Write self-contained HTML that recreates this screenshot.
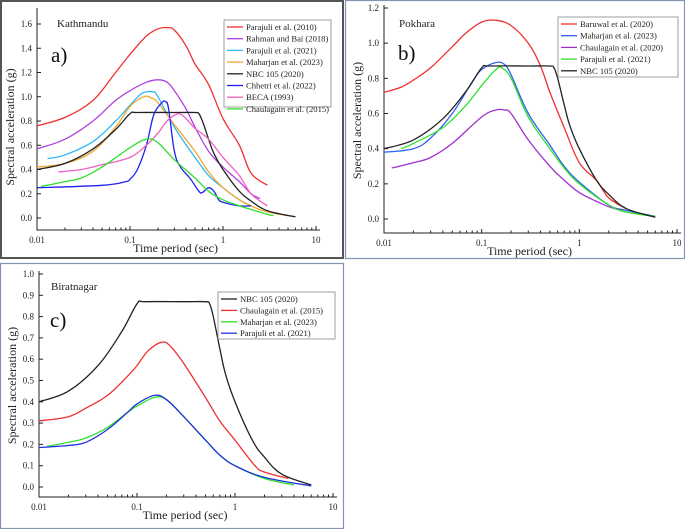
<!DOCTYPE html>
<html><head><meta charset="utf-8"><style>
body{margin:0;background:#fff;width:685px;height:529px;overflow:hidden}
svg{display:block;font-family:"Liberation Serif",serif}
</style></head><body>
<svg id="fig" width="685" height="529"></svg>
<script>
// ---- data ----
const nbc=[[0.01,0.4],[0.02,0.45],[0.04,0.57],[0.07,0.73],[0.1,0.86],[0.12,0.87],[0.3,0.87],[0.5,0.87],[0.55,0.86],[0.6,0.8],[0.7,0.65],[0.8,0.53],[1,0.4],[1.5,0.22],[2,0.14],[3,0.06],[6,0.01]];
const aParajuli2010=[[0.01,0.76],[0.02,0.83],[0.04,0.97],[0.07,1.2],[0.1,1.35],[0.15,1.5],[0.2,1.56],[0.25,1.57],[0.3,1.55],[0.4,1.42],[0.5,1.27],[0.7,1.1],[1,0.82],[1.5,0.6],[2,0.37],[3,0.27]];
const aRahman=[[0.01,0.57],[0.02,0.65],[0.04,0.8],[0.07,0.97],[0.1,1.05],[0.15,1.12],[0.2,1.14],[0.25,1.12],[0.3,1.05],[0.4,0.9],[0.5,0.75],[0.7,0.55],[1,0.42],[1.5,0.3],[2,0.2],[2.5,0.16]];
const aParajuli2021=[[0.013,0.49],[0.02,0.52],[0.04,0.63],[0.07,0.8],[0.1,0.93],[0.13,1.02],[0.15,1.04],[0.18,1.04],[0.2,1.0],[0.3,0.75],[0.5,0.5],[0.7,0.35],[1,0.25],[1.5,0.15],[2,0.1]];
const aMaharjan=[[0.01,0.42],[0.02,0.45],[0.04,0.55],[0.07,0.75],[0.1,0.92],[0.14,1.0],[0.17,0.99],[0.2,0.95],[0.3,0.77],[0.5,0.55],[0.7,0.38],[1,0.25],[1.5,0.15],[2,0.1],[3,0.05],[6,0.01]];
const aChhetri=[[0.01,0.25],[0.05,0.27],[0.09,0.3],[0.1,0.32],[0.12,0.4],[0.15,0.6],[0.18,0.85],[0.22,0.95],[0.24,0.96],[0.26,0.9],[0.3,0.55],[0.35,0.42],[0.45,0.32],[0.55,0.22],[0.6,0.21],[0.7,0.25],[0.8,0.22],[0.9,0.15],[1,0.13],[1.5,0.1],[2,0.1]];
const aBeca=[[0.017,0.38],[0.03,0.4],[0.05,0.44],[0.1,0.5],[0.15,0.6],[0.2,0.7],[0.25,0.8],[0.33,0.86],[0.4,0.82],[0.5,0.74],[0.7,0.65],[1,0.5],[1.5,0.35],[2,0.2],[3,0.1]];
const aChaulagain=[[0.011,0.26],[0.02,0.3],[0.03,0.33],[0.05,0.42],[0.1,0.58],[0.15,0.65],[0.2,0.62],[0.3,0.48],[0.5,0.33],[0.7,0.22],[1,0.15],[1.5,0.1],[2,0.07],[3,0.03],[3.5,0.02]];
const bBaruwal=[[0.01,0.72],[0.015,0.75],[0.02,0.79],[0.03,0.86],[0.05,0.98],[0.07,1.06],[0.1,1.12],[0.14,1.13],[0.2,1.1],[0.3,1.0],[0.4,0.87],[0.5,0.72],[0.7,0.52],[1,0.32],[1.5,0.22],[2,0.12],[3,0.06]];
const bMaharjan=[[0.01,0.38],[0.02,0.4],[0.03,0.46],[0.05,0.6],[0.08,0.78],[0.1,0.85],[0.14,0.89],[0.17,0.88],[0.2,0.82],[0.3,0.6],[0.5,0.42],[0.7,0.3],[1,0.21],[2,0.08],[3,0.05],[6,0.015]];
const bChaulagain=[[0.012,0.29],[0.02,0.32],[0.03,0.35],[0.05,0.43],[0.1,0.58],[0.14,0.62],[0.17,0.62],[0.2,0.6],[0.3,0.45],[0.5,0.3],[0.7,0.22],[1,0.15],[1.5,0.1],[2,0.07],[3,0.04]];
const bParajuli=[[0.015,0.4],[0.02,0.43],[0.04,0.52],[0.07,0.65],[0.1,0.76],[0.14,0.85],[0.16,0.86],[0.2,0.8],[0.3,0.58],[0.5,0.4],[0.7,0.29],[1,0.2],[2,0.08],[3,0.04],[6,0.015]];
const cChaulagain=[[0.01,0.31],[0.02,0.33],[0.03,0.37],[0.05,0.43],[0.08,0.52],[0.1,0.57],[0.13,0.64],[0.18,0.68],[0.22,0.66],[0.3,0.58],[0.5,0.42],[0.7,0.31],[1,0.22],[1.6,0.1],[2,0.07],[3.5,0.04]];
const cMaharjan=[[0.012,0.19],[0.02,0.21],[0.03,0.23],[0.05,0.28],[0.08,0.35],[0.1,0.38],[0.15,0.42],[0.2,0.41],[0.3,0.33],[0.5,0.22],[0.7,0.15],[1,0.1],[2,0.04],[4,0.01]];
const cParajuli=[[0.01,0.185],[0.02,0.195],[0.03,0.21],[0.05,0.27],[0.08,0.35],[0.1,0.39],[0.15,0.43],[0.2,0.41],[0.3,0.33],[0.5,0.22],[0.7,0.15],[1,0.1],[2,0.045],[6,0.005]];
const xTickLabels=["0.01","0.1","1","10"];
const aYTicks=[0,0.2,0.4,0.6,0.8,1.0,1.2,1.4,1.6];
const bYTicks=[0,0.2,0.4,0.6,0.8,1.0,1.2];
const cYTicks=[0,0.1,0.2,0.3,0.4,0.5,0.6,0.7,0.8,0.9,1.0];

const svg=document.getElementById('fig');const NS='http://www.w3.org/2000/svg';
function mk(tag,at,parent,txt){const e=document.createElementNS(NS,tag);for(const k in at)e.setAttribute(k,at[k]);if(txt!==undefined)e.textContent=txt;(parent||svg).appendChild(e);return e;}
function smooth(P){let d=`M${P[0][0].toFixed(1)},${P[0][1].toFixed(1)}`;const t=0.18;
 for(let i=0;i<P.length-1;i++){const p0=P[Math.max(0,i-1)],p1=P[i],p2=P[i+1],p3=P[Math.min(P.length-1,i+2)];
  const c1=[p1[0]+(p2[0]-p0[0])*t,p1[1]+(p2[1]-p0[1])*t],c2=[p2[0]-(p3[0]-p1[0])*t,p2[1]-(p3[1]-p1[1])*t];
  d+=`C${c1[0].toFixed(1)},${c1[1].toFixed(1)} ${c2[0].toFixed(1)},${c2[1].toFixed(1)} ${p2[0].toFixed(1)},${p2[1].toFixed(1)}`;}
 return d;}

const panels=[
 {id:'kathmandu',bx:1,by:1,bw:342,bh:257,bc:'#555',x0:37,x1:316,yz:218,ytop:24,ymaxv:1.6,ax:230,aTop:8,yt:aYTicks,dec:1,
  title:'Kathmandu',tx:57,ty:27,lab:'a)',lx:51,ly:62,legX:224,legY:20,legW:107,legH:87,legStep:11.7,
  series:[['Parajuli et al. (2010)','#f03030',aParajuli2010],['Rahman and Bai (2018)','#b040e0',aRahman],['Parajuli et al. (2021)','#30b8f8',aParajuli2021],['Maharjan et al. (2023)','#f0a830',aMaharjan],['NBC 105 (2020)','#222',nbc],['Chhetri et al. (2022)','#2020f0',aChhetri],['BECA (1993)','#f060c0',aBeca],['Chaulagain et al. (2015)','#30e030',aChaulagain]]},
 {id:'pokhara',bx:345.5,by:0.5,bw:339,bh:258,bc:'#8494b4',x0:384,x1:677,yz:219,ytop:8,ymaxv:1.2,ax:233,aTop:5,yt:bYTicks,dec:1,
  title:'Pokhara',tx:399,ty:27,lab:'b)',lx:398,ly:60,legX:558,legY:17,legW:120,legH:60,legStep:11.7,
  series:[['Baruwal et al. (2020)','#f03030',bBaruwal],['Maharjan et al. (2023)','#3060f0',bMaharjan],['Chaulagain et al. (2020)','#a030d0',bChaulagain],['Parajuli et al. (2021)','#30e030',bParajuli],['NBC 105 (2020)','#222',nbc]]},
 {id:'biratnagar',bx:0.5,by:263.5,bw:343,bh:265,bc:'#8494b4',x0:39,x1:333,yz:487,ytop:274,ymaxv:1.0,ax:497,aTop:271,yt:cYTicks,dec:1,
  title:'Biratnagar',tx:51,ty:290,lab:'c)',lx:50,ly:327,legX:218,legY:292,legW:117,legH:47,legStep:11.4,
  series:[['NBC 105 (2020)','#222',nbc],['Chaulagain et al. (2015)','#f03030',cChaulagain],['Maharjan et al. (2023)','#30e030',cMaharjan],['Parajuli et al. (2021)','#2030e0',cParajuli]]}
];

panels.forEach(p=>{
 const g=mk('g',{},svg);
 const b=mk('rect',{x:p.bx,y:p.by,width:p.bw,height:p.bh,fill:'none',stroke:p.bc,'stroke-width':p.bc==='#555'?2:1.2},g);
 
 const X=v=>p.x0+(Math.log10(v)+2)/3*(p.x1-p.x0);
 const Y=v=>p.yz-v/p.ymaxv*(p.yz-p.ytop);
 const ax=mk('g',{stroke:'#222','stroke-width':1,fill:'none'},g);
 mk('path',{d:`M${p.x0},${p.aTop}V${p.ax}H${p.x1+4}`},ax);
 for(let d=0;d<3;d++)for(let m=1;m<=9;m++){const v=Math.pow(10,d-2)*m;const x=X(v);mk('line',{x1:x,x2:x,y1:p.ax,y2:p.ax-(m===1?4:2.5)},ax);}
 mk('line',{x1:p.x1,x2:p.x1,y1:p.ax,y2:p.ax-4},ax);
 p.yt.forEach(v=>{mk('line',{x1:p.x0,x2:p.x0+4,y1:Y(v),y2:Y(v)},ax);
  const t=mk('text',{x:p.x0-5,y:Y(v)+3,'font-size':9,'text-anchor':'end',fill:'#222'},g,v.toFixed(p.dec));});
 xTickLabels.forEach((s,i)=>{const t=mk('text',{x:X(Math.pow(10,i-2)),y:p.ax+13,'font-size':9,'text-anchor':'middle',fill:'#222'},g,s);});
 const xt=mk('text',{x:(p.x0+p.x1)/2-1,y:p.ax+22,'font-size':12,'text-anchor':'middle',fill:'#222'},g,'Time period (sec)');
 const cy=(p.ytop+p.ax)/2;const yl=mk('text',{x:9,y:cy,'font-size':12,'text-anchor':'middle',fill:'#222',transform:`rotate(-90 ${p.x0-27} ${cy})`},g,'Spectral acceleration (g)');
 yl.setAttribute('x',p.x0-27);yl.setAttribute('y',cy+4);
 const tt=mk('text',{x:p.tx,y:p.ty,'font-size':11,fill:'#222'},g,p.title);
 const lb=mk('text',{x:p.lx,y:p.ly,'font-size':21,fill:'#111'},g,p.lab);
 p.series.forEach(s=>{const P=s[2].map(q=>[X(q[0]),Y(q[1])]);
  const l=mk('path',{d:smooth(P),fill:'none',stroke:s[1],'stroke-width':1.3,'stroke-linejoin':'round'},g);
  });
 const lg=mk('g',{},g);
 mk('rect',{x:p.legX,y:p.legY,width:p.legW,height:p.legH,fill:'#fff',stroke:'#888','stroke-width':0.8},lg);
 p.series.forEach((s,i)=>{const yy=p.legY+7+i*p.legStep;
  const e=mk('g',{},lg);
  mk('line',{x1:p.legX+3,x2:p.legX+19,y1:yy,y2:yy,stroke:s[1],'stroke-width':1.3},e);
  mk('text',{x:p.legX+22,y:yy+3,'font-size':8.6,fill:'#222'},e,s[0]);});
});
</script>
</body></html>
